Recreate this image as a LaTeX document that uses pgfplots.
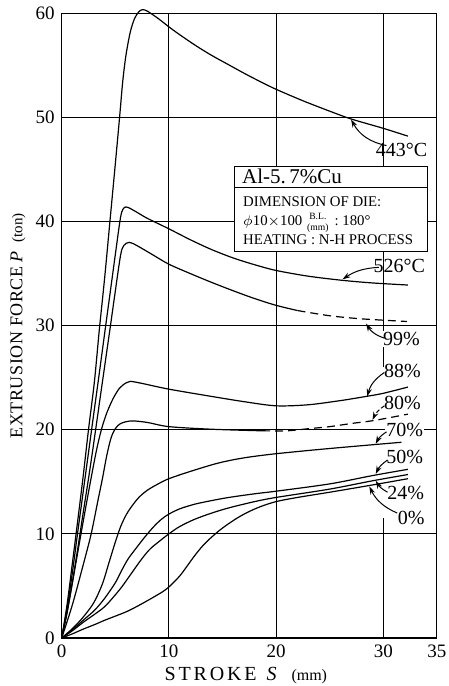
\documentclass[border=0pt]{standalone}
\usepackage{amsmath}
\usepackage{pgfplots}
\pgfplotsset{compat=1.18}
\usepackage{fontspec}
\setmainfont{Liberation Serif}
\newfontfamily\yspaced[LetterSpace=3]{Liberation Serif}
\newfontfamily\xspaced[LetterSpace=14]{Liberation Serif}
\usetikzlibrary{arrows.meta}

\begin{document}
\begin{tikzpicture}[
  grid line/.style={line width=0.5pt, black},
  lbl/.style={font=\fontsize{10}{11}\selectfont, inner sep=0.6pt},
  pointer/.style={line width=0.5pt, -{Stealth[length=4pt, width=2.6pt]}},
]
\begin{axis}[
  scale only axis, width=187.6pt, height=312.4pt,
  xmin=0, xmax=35, ymin=0, ymax=60,
  xtick={0,10,20,30,35}, ytick={0,10,20,30,40,50,60},
  tick style={draw=none},
  axis line style={line width=0.6pt},
  tick label style={font=\fontsize{9.5}{10}\selectfont},
  /pgf/number format/assume math mode=true,
  xlabel={{\xspaced STROKE}\ \ \textit{S}\ \ \ {\fontsize{8}{9}\selectfont(mm)}},
  ylabel={{\yspaced EXTRUSION FORCE} \textit{P}\ \ {\fontsize{7.5}{9}\selectfont(ton)}},
  xlabel style={font=\fontsize{10}{11}\selectfont, at={(axis description cs:0.491,0)}, anchor=center, yshift=-19pt},
  ylabel style={font=\fontsize{9}{10}\selectfont, at={(axis description cs:0,0.5)}, anchor=center, yshift=21.9pt},
  clip=false,
  curve/.style={black, line width=0.6pt, smooth, tension=0.5, no markers},
]
% grid
\draw[grid line] (axis cs:10,0) -- (axis cs:10,60);
\draw[grid line] (axis cs:20,0) -- (axis cs:20,60);
\draw[grid line] (axis cs:30,26) -- (axis cs:30,60);
\draw[grid line] (axis cs:30,0) -- (axis cs:30,11.5);
\draw[grid line] (axis cs:0,10) -- (axis cs:35,10);
\draw[grid line] (axis cs:0,20) -- (axis cs:35,20);
\draw[grid line] (axis cs:0,30) -- (axis cs:35,30);
\draw[grid line] (axis cs:0,40) -- (axis cs:35,40);
\draw[grid line] (axis cs:0,50) -- (axis cs:35,50);

% 443 C
\addplot[curve] coordinates {(0,0)(0.5,3.2)(1,7.2)(1.5,11.3)(2,15.5)(2.5,20)(3.05,24.6)(3.5,29.5)(4,34.5)(4.5,40)(5,45.5)(5.4,50)(5.7,53.5)(6,56)(6.4,58.2)(6.8,59.5)(7.2,60.15)(7.55,60.35)(8,60.2)(9,59.5)(10,58.7)(11,57.95)(12.5,56.9)(14,55.95)(15.5,55.1)(17,54.25)(18.5,53.45)(20,52.7)(22.5,51.6)(25,50.6)(27,49.85)(30,48.95)(32.3,48.2)};
% 526 C
\addplot[curve] coordinates {(0,0)(0.5,2.8)(1,6.3)(1.5,10.2)(2,14)(2.5,17.8)(3,21.6)(3.4,24.6)(4,29.2)(4.5,33)(5,36.8)(5.4,39.8)(5.6,40.9)(5.85,41.35)(6.2,41.35)(7,40.9)(8,40.3)(10,39.3)(12,38.25)(14,37.3)(16,36.5)(18,35.85)(20,35.3)(23,34.75)(26.2,34.35)(29,34.1)(32.3,33.9)};
% 99 %
\addplot[curve] coordinates {(0,0)(0.5,2.4)(1,5.4)(1.5,8.6)(2,12)(2.5,15.3)(3,18.8)(3.8,24.6)(4.55,30)(5,33.3)(5.5,36.8)(5.8,37.7)(6.3,38.0)(7,37.7)(8.5,36.8)(10,35.9)(12,35.0)(14,34.15)(16,33.35)(18,32.6)(20,31.95)(22,31.45)};
\addplot[curve, dash pattern=on 4pt off 2.5pt] coordinates {(22,31.45)(25,30.95)(28,30.65)(32.2,30.4)};
% 88 %
\addplot[curve] coordinates {(0,0)(0.5,2.5)(1,5.3)(1.8,10)(2.5,14)(3.2,17.8)(3.7,20)(4.2,21.6)(4.8,23)(5.4,24)(6,24.5)(6.4,24.65)(7.5,24.45)(10,23.9)(14,23.2)(17,22.7)(20,22.3)(23,22.4)(26,22.8)(28.4,23.2)(30,23.5)(32.3,24.1)};
% 80 %
\addplot[curve] coordinates {(0,0)(1,3.2)(2,7)(2.75,10)(3.4,13.3)(3.8,15.3)(4.2,17.5)(4.6,19.2)(5.0,20.1)(5.5,20.6)(6.5,20.85)(8,20.7)(10,20.3)(14,20.05)(18.7,19.9)};
\addplot[curve, dash pattern=on 4pt off 2.5pt] coordinates {(18.7,19.9)(21,19.9)(23,20.1)(25,20.3)(27,20.6)(29.2,20.9)(32.3,21.5)};
% 70 %
\addplot[curve] coordinates {(0,0)(1,0.9)(2,2.0)(3,3.4)(3.8,5.2)(4.4,7.2)(5,9.2)(5.5,10.7)(6,11.8)(6.5,12.6)(7.2,13.5)(8,14.2)(9,14.8)(10,15.3)(12,16.0)(14.6,16.8)(17,17.3)(20,17.7)(25,18.2)(31.7,18.8)};
% 50 %
\addplot[curve] coordinates {(0,0)(1,0.8)(2,1.7)(3.1,2.7)(4,3.8)(5,5.3)(5.6,6.5)(6.2,7.6)(7,8.7)(7.6,9.5)(8.5,10.6)(9.3,11.4)(10,11.9)(11,12.4)(12.4,12.85)(14,13.2)(15.6,13.5)(18,13.85)(20,14.1)(25,14.8)(29,15.6)(32.3,16.2)};
% 24 %
\addplot[curve] coordinates {(0,0)(1,0.7)(2,1.5)(3.1,2.3)(4,3.0)(4.8,3.9)(5.6,4.9)(6.5,6.2)(7.4,7.5)(8.2,8.5)(9,9.2)(10,10.0)(11,10.7)(12.4,11.4)(14,12.0)(15.6,12.5)(18,13.1)(20,13.5)(25,14.3)(29,15.1)(32.3,15.7)};
% 0 %
\addplot[curve] coordinates {(0,0)(1,0.4)(2,0.85)(3.1,1.3)(4,1.7)(5,2.1)(6.2,2.6)(7.5,3.3)(8.7,4.0)(9.5,4.5)(10,4.9)(10.6,5.5)(11.2,6.2)(12.4,7.9)(13.2,8.9)(14,9.7)(14.8,10.4)(15.6,11.0)(16.5,11.6)(17.4,12.1)(18.5,12.6)(20,13.1)(22,13.5)(25,14.0)(29,14.7)(32.3,15.3)};

% specification box
\draw[fill=white, line width=0.6pt] (axis cs:16.1,37.1) rectangle (axis cs:34.1,45.3);
\draw[line width=0.6pt] (axis cs:16.1,43.3) -- (axis cs:34.1,43.3);
\node[anchor=west, inner sep=0pt, font=\fontsize{10.5}{11}\selectfont] at (axis cs:16.8,44.3) {Al-5.\,7\%Cu};
\node[anchor=base west, inner sep=0pt, font=\fontsize{7.4}{8}\selectfont] at (axis cs:16.9,41.4) {DIMENSION OF DIE:};
\node[anchor=base west, inner sep=0pt, font=\fontsize{7.4}{8}\selectfont] at (axis cs:16.9,39.6)
  {$\phi$10$\times$100\,$\genfrac{}{}{0pt}{}{\mbox{\fontsize{4.8}{5}\selectfont B.L.}}{\mbox{\fontsize{4.8}{5}\selectfont (mm)}}$\ :\ 180°};
\node[anchor=base west, inner sep=0pt, font=\fontsize{7.4}{8}\selectfont] at (axis cs:16.9,37.75) {HEATING : N-H PROCESS};

% curve labels
\node[lbl] at (axis cs:31.7,46.9) {443°C};
\node[lbl] at (axis cs:31.5,35.7) {526°C};
\node[lbl, fill=white] at (axis cs:31.7,28.7) {99\%};
\node[lbl] at (axis cs:31.8,25.6) {88\%};
\node[lbl] at (axis cs:31.8,22.6) {80\%};
\node[lbl, fill=white] at (axis cs:32.0,20.0) {70\%};
\node[lbl] at (axis cs:32.0,17.4) {50\%};
\node[lbl] at (axis cs:32.1,13.9) {24\%};
\node[lbl] at (axis cs:32.6,11.5) {0\%};

% pointers
\draw[pointer] (axis cs:30.3,47.3) to[bend left=25] (axis cs:27.0,49.8);
\draw[pointer] (axis cs:29.6,35.6) to[bend right=15] (axis cs:26.2,34.45);
\draw[pointer] (axis cs:30.1,28.8) to[bend left=20] (axis cs:28.4,30.2);
\draw[pointer] (axis cs:30.1,25.5) to[bend right=20] (axis cs:28.5,23.2);
\draw[pointer, dash pattern=on 2pt off 1.2pt] (axis cs:30.1,22.3) to[bend right=15] (axis cs:29.0,20.95);
\draw[pointer] (axis cs:30.3,19.8) to[bend right=15] (axis cs:29.3,18.65);
\draw[pointer] (axis cs:30.4,17.1) to[bend right=15] (axis cs:29.3,15.75);
\draw[pointer] (axis cs:30.4,14.0) to[bend left=15] (axis cs:29.3,15.1);
\draw[pointer] (axis cs:31.3,12.0) to[bend left=20] (axis cs:28.7,14.55);
\end{axis}
\pgfresetboundingbox
\path ([shift={(-30.85pt,-24pt)}]current axis.south west) rectangle ([shift={(6pt,6.65pt)}]current axis.north east);
\end{tikzpicture}
\end{document}
